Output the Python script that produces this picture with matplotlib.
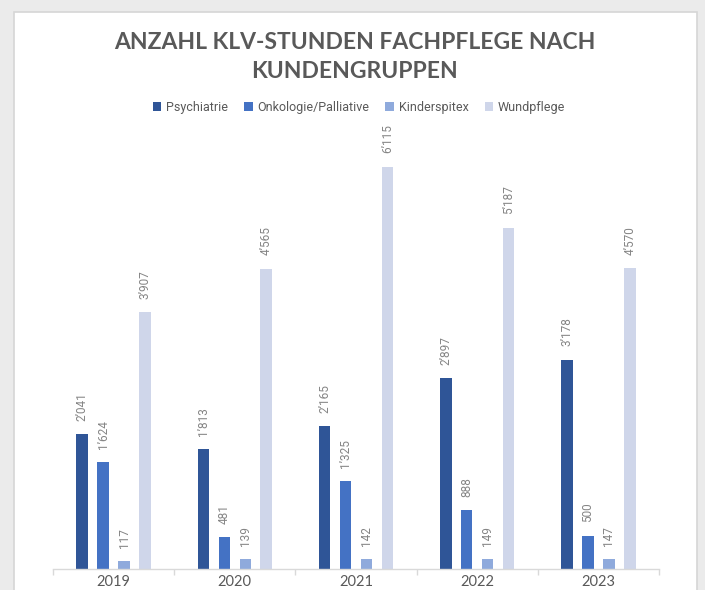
import matplotlib
matplotlib.use("Agg")
import matplotlib.pyplot as plt
import matplotlib.font_manager as fm
from matplotlib.patches import Rectangle, Patch
import numpy as np

years = ["2019", "2020", "2021", "2022", "2023"]
series_names = ["Psychiatrie", "Onkologie/Palliative", "Kinderspitex", "Wundpflege"]
psychiatrie = [2041, 1813, 2165, 2897, 3178]
onkologie = [1624, 481, 1325, 888, 500]
kinderspitex = [117, 139, 142, 149, 147]
wundpflege = [3907, 4565, 6115, 5187, 4570]
colors = ["#2F5597", "#4472C4", "#8FAADC", "#CFD6EA"]
title = "ANZAHL KLV-STUNDEN FACHPFLEGE NACH\nKUNDENGRUPPEN"

available = {f.name for f in fm.fontManager.ttflist}
narrow = "Liberation Sans Narrow" if "Liberation Sans Narrow" in available else "Roboto"
main_font = "Lato" if "Lato" in available else "DejaVu Sans"

W, H = 705, 590
fig = plt.figure(figsize=(W / 100, H / 100), dpi=100)
fig.patch.set_facecolor("#EBEBEB")
fig.patches.append(Rectangle((14 / W, -0.1), (697 - 14) / W, 1.1 - 12 / H,
                             transform=fig.transFigure, facecolor="white",
                             edgecolor="#D6D6D6", linewidth=1.2, zorder=-5))

ax = fig.add_axes([53 / W, (590 - 568.5) / H, (659 - 53) / W, 460 / H])
ax.set_facecolor("none")
ax.set_zorder(2)

data = [psychiatrie, onkologie, kinderspitex, wundpflege]
x = np.arange(len(years))
step = 0.173
width = 0.095
for i, (vals, c) in enumerate(zip(data, colors)):
    pos = x + (i - 1.5) * step
    ax.bar(pos, vals, width=width, color=c, zorder=2)
    for p, v in zip(pos, vals):
        lbl = f"{v:,}".replace(",", "\u2019")
        ax.annotate(lbl, (p, v), xytext=(0, 9.5), textcoords="offset points",
                    rotation=90, ha="center", va="bottom", fontsize=8.5,
                    color="#858585", family=[narrow, "DejaVu Sans"])

ax.set_xlim(-0.5, len(years) - 0.5)
ax.set_ylim(0, 7000)
for s in ["top", "right", "left"]:
    ax.spines[s].set_visible(False)
ax.spines["bottom"].set_color("#D9D9D9")
ax.spines["bottom"].set_linewidth(1.0)
ax.set_yticks([])
ax.set_xticks(x)
ax.set_xticklabels(years, fontsize=10.5, color="#595959", family=main_font)
ax.tick_params(axis="x", which="major", length=0, pad=5)
ax.set_xticks(np.arange(-0.5, len(years), 1.0), minor=True)
ax.tick_params(axis="x", which="minor", length=4, color="#D9D9D9", width=1)

fig.text(355 / W, 1 - 57 / H, title, ha="center", va="center",
         fontsize=16.5, fontweight="bold", color="#595959",
         family=main_font, linespacing=1.5)

handles = [Patch(facecolor=c, edgecolor="none") for c in colors]
fig.legend(handles, series_names, loc="center", bbox_to_anchor=(359 / W, 1 - 107 / H),
           ncol=4, frameon=False, handlelength=0.7, handleheight=0.7,
           handletextpad=0.35, columnspacing=1.3, labelcolor="#595959",
           prop={"family": narrow, "size": 9})

fig.savefig("out.png", dpi=100, facecolor=fig.get_facecolor())
